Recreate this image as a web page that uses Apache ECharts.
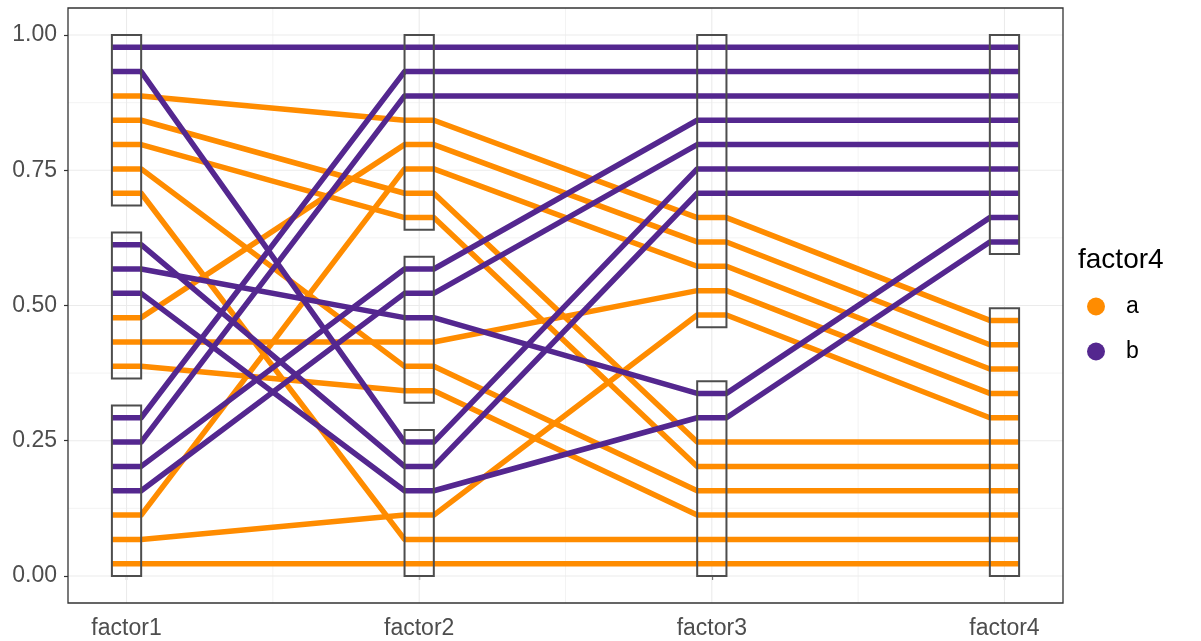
<!DOCTYPE html>
<html>
<head>
<meta charset="utf-8">
<script src="https://cdn.jsdelivr.net/npm/echarts@6/dist/echarts.min.js"></script>
<style>
html,body{margin:0;padding:0;background:#fff;}
#chart{width:1201px;height:641px;}
</style>
</head>
<body>
<div id="chart"></div>
<script>
// ---- data ----
const axisNames = ['factor1', 'factor2', 'factor3', 'factor4'];
const yTicks = [0, 0.25, 0.5, 0.75, 1];
const yMinor = [0.125, 0.375, 0.625, 0.875];
const xTicks = [1, 2, 3, 4];
const xMinor = [1.5, 2.5, 3.5];

// one entry per observation (line), position on each axis
const group   = ['b','b','a','a','a','a','a','b','b','b','a','a','a','b','b','b','b','a','a','a'];
const factor1 = [0.9775,0.9325,0.8875,0.8425,0.7975,0.7525,0.7075,0.6125,0.5675,0.5225,0.4775,0.4325,0.3875,0.2925,0.2475,0.2025,0.1575,0.1125,0.0675,0.0225];
const factor2 = [0.9775,0.2475,0.8425,0.7075,0.6625,0.3875,0.0675,0.2025,0.4775,0.1575,0.7975,0.4325,0.3425,0.9325,0.8875,0.5675,0.5225,0.7525,0.1125,0.0225];
const factor3 = [0.9775,0.7525,0.6625,0.2475,0.2025,0.1575,0.0675,0.7075,0.3375,0.2925,0.6175,0.5275,0.1125,0.9325,0.8875,0.8425,0.7975,0.5725,0.4825,0.0225];
const factor4 = [0.9775,0.7525,0.4725,0.2475,0.2025,0.1575,0.0675,0.7075,0.6625,0.6175,0.4275,0.3375,0.1125,0.9325,0.8875,0.8425,0.7975,0.3825,0.2925,0.0225];

// level boxes: axis index, lower and upper bound
const boxAxis = [1, 1, 1, 2, 2, 2, 3, 3, 4, 4];
const boxLow  = [0, 0.365, 0.685, 0, 0.32, 0.64, 0, 0.46, 0, 0.595];
const boxHigh = [0.315, 0.635, 1, 0.27, 0.59, 1, 0.36, 1, 0.495, 1];

// ---- styling ----
const colors = { a: '#FF8C00', b: '#54278F' };
const halfW = 0.05;
const X0 = 0.8, X1 = 4.2, Y0 = -0.05, Y1 = 1.05;
const FONT = 'Liberation Sans, Arial, sans-serif';
const chart = echarts.init(document.getElementById('chart'));

const series = [];
function gridLine(pts, w) {
  series.push({
    type: 'line', data: pts, symbol: 'none', silent: true, z: 0, animation: false,
    lineStyle: { color: '#EBEBEB', width: w }, tooltip: { show: false }
  });
}
yMinor.forEach(v => gridLine([[X0, v], [X1, v]], 0.6));
xMinor.forEach(v => gridLine([[v, Y0], [v, Y1]], 0.6));
yTicks.forEach(v => gridLine([[X0, v], [X1, v]], 1.1));
xTicks.forEach(v => gridLine([[v, Y0], [v, Y1]], 1.1));

const cols = [factor1, factor2, factor3, factor4];
['a', 'b'].forEach(g => {
  group.forEach((gg, i) => {
    if (gg !== g) return;
    const pts = [];
    cols.forEach((c, k) => {
      pts.push([xTicks[k] - halfW, c[i]]);
      pts.push([xTicks[k] + halfW, c[i]]);
    });
    series.push({
      name: g, type: 'line', data: pts, symbol: 'none', silent: true, z: g === 'a' ? 2 : 3,
      color: colors[g],
      lineStyle: { color: colors[g], width: 5.5, cap: 'butt', join: 'round' },
      animation: false
    });
  });
});

series.push({
  type: 'custom', silent: true, z: 5, animation: false,
  data: boxAxis.map((x, i) => [x, boxLow[i], boxHigh[i]]),
  renderItem: function (params, api) {
    const p1 = api.coord([api.value(0) - halfW, api.value(2)]);
    const p2 = api.coord([api.value(0) + halfW, api.value(1)]);
    return {
      type: 'rect',
      shape: { x: p1[0], y: p1[1], width: p2[0] - p1[0], height: p2[1] - p1[1] },
      style: { fill: 'none', stroke: '#4D4D4D', lineWidth: 2 }
    };
  }
});

chart.setOption({
  animation: false,
  backgroundColor: '#ffffff',
  textStyle: { fontFamily: FONT },
  grid: { left: 68, right: 138, top: 8, bottom: 38, show: true, borderColor: '#333333', borderWidth: 1.3, backgroundColor: 'transparent', z: 10 },
  title: {
    text: 'factor4', left: 1073, top: 241,
    textStyle: { fontSize: 28, fontWeight: 'normal', color: '#000', fontFamily: FONT }
  },
  legend: {
    data: ['a', 'b'], orient: 'vertical', left: 1082, top: 290,
    icon: 'circle', itemWidth: 18, itemHeight: 18, itemGap: 22,
    selectedMode: false,
    textStyle: { fontSize: 23, color: '#000', padding: [0, 0, 0, 16], fontFamily: FONT }
  },
  xAxis: {
    type: 'value', min: X0, max: X1,
    splitLine: { show: false }, axisLine: { show: false },
    axisTick: { show: true, customValues: xTicks, length: 4, lineStyle: { color: '#333333', width: 1.2 } },
    axisLabel: { customValues: xTicks, formatter: v => axisNames[Math.round(v) - 1], color: '#4D4D4D', fontSize: 23, margin: 14 }
  },
  yAxis: {
    type: 'value', min: Y0, max: Y1,
    splitLine: { show: false }, axisLine: { show: false },
    axisTick: { show: true, customValues: yTicks, length: 4, lineStyle: { color: '#333333', width: 1.2 } },
    axisLabel: { customValues: yTicks, formatter: v => v.toFixed(2), color: '#4D4D4D', fontSize: 23, margin: 11 }
  },
  series: series
});
</script>
</body>
</html>
